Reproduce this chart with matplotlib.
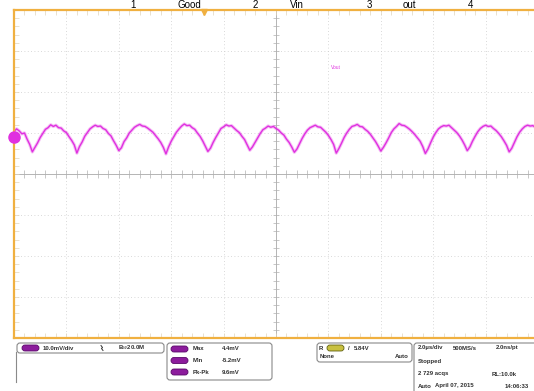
import matplotlib
matplotlib.use("Agg")
import matplotlib.pyplot as plt
from matplotlib.patches import FancyBboxPatch
import numpy as np

# ---- data ----
# Ch1 trace, mV relative to the channel marker, one sample every 0.1 us from -10 us
vout_mv = [
    1.4, 2.0, 1.5, 0.8, 1.0, -0.5, -1.8,
    -3.6, -2.5, -1.4, -0.1, 0.9, 1.9, 2.3, 3.0, 2.6, 2.9, 2.3, 2.2, 1.5, 1.1, 0.1, -0.8, -1.9,
    -3.9, -2.3, -1.2, 0.2, 1.1, 2.0, 2.5, 2.9, 2.6, 2.7, 2.1, 1.8, 0.9, 0.3, -0.9, -2.0,
    -3.3, -2.6, -1.1, -0.2, 1.0, 1.7, 2.4, 2.8, 3.1, 2.7, 2.6, 2.2, 1.7, 1.2, 0.4, -0.4, -1.3, -2.5,
    -4.1, -2.4, -1.0, 0.1, 1.2, 2.0, 2.7, 3.2, 2.8, 2.9, 2.3, 1.9, 1.0, 0.2, -0.9, -2.2,
    -3.5, -2.7, -1.3, -0.1, 1.0, 2.1, 2.5, 3.0, 2.7, 2.8, 2.2, 1.6, 1.1, 0.2, -0.6, -1.9,
    -3.2, -2.4, -1.3, -0.2, 0.9, 1.8, 2.2, 2.7, 2.4, 2.6, 2.1, 1.7, 1.0, 0.5, -0.5, -1.3, -2.4,
    -3.7, -2.9, -1.6, -0.3, 0.8, 1.7, 2.3, 2.6, 2.9, 2.5, 2.4, 1.8, 1.2, 0.4, -0.6, -1.8,
    -3.9, -2.8, -1.5, -0.1, 1.0, 1.9, 2.6, 2.8, 3.1, 2.6, 2.5, 1.9, 1.4, 0.7, -0.2, -1.1, -2.2,
    -3.4, -2.5, -1.4, -0.2, 1.1, 2.0, 2.6, 3.3, 2.9, 2.8, 2.4, 1.9, 1.3, 0.6, -0.2, -1.0, -2.3,
    -4.0, -2.9, -1.4, 0.0, 1.1, 2.0, 2.5, 2.8, 2.7, 2.9, 2.3, 1.7, 1.1, 0.3, -0.7, -1.9,
    -3.3, -2.4, -1.0, 0.2, 1.3, 2.1, 2.6, 2.9, 2.6, 2.7, 2.1, 1.6, 0.9, 0.1, -0.9, -2.0,
    -3.6, -2.7, -1.3, 0.1, 1.2, 2.0, 2.6, 2.9, 2.7, 2.8, 2.4, 2.1,
]
sample_us = 0.1
t_start_us = -10.0
ch1_offset_mv = 9.0          # channel marker position on screen (mV)

top_labels = ["1", "Good", "2", "Vin", "3", "out", "4"]
meas_names = ["Max", "Min", "Pk-Pk"]
meas_values = ["4.4mV", "-5.2mV", "9.6mV"]

ORANGE = '#f0b040'
TRACE = '#e030e0'
PURPLE = '#8c1c9c'
GRIDC = '#cccccc'
FONT = 'Liberation Sans'

W, H = 534, 391
fig = plt.figure(figsize=(W / 100, H / 100), dpi=100)
fig.patch.set_facecolor('white')

def fx(x):
    return x / W

def fy(y):
    return 1 - y / H

# ---- graticule ----
ax = fig.add_axes([fx(14), fy(338), 524 / W, 328 / H])
ax.set_xlim(-10, 10)
ax.set_ylim(-40, 40)
ax.set_xticks([])
ax.set_yticks([])
for s in ['left', 'top', 'bottom']:
    ax.spines[s].set_color(ORANGE)
    ax.spines[s].set_linewidth(1.6)
ax.spines['right'].set_visible(False)

for x in range(-8, 9, 2):
    if x != 0:
        ax.axvline(x, color=GRIDC, lw=0.6, ls=(0, (1, 3)))
for y in range(-30, 31, 10):
    if y != 0:
        ax.axhline(y, color=GRIDC, lw=0.6, ls=(0, (1, 3)))
ax.axvline(0, color='#b4b4b4', lw=0.7)
ax.axhline(0, color='#b4b4b4', lw=0.7)

# minor tick marks (5 per division)
xt = np.arange(-10, 10.01, 0.4)
yt = np.arange(-40, 40.01, 2)
ax.vlines(xt, -0.9, 0.9, color='#b0b0b0', lw=0.5)
ax.hlines(yt, -0.12, 0.12, color='#b0b0b0', lw=0.5)
ax.vlines(xt, 38.8, 40, color='#e0d4bc', lw=0.5)
ax.vlines(xt, -40, -38.8, color='#e0d4bc', lw=0.5)
ax.hlines(yt, -10, -9.8, color='#e0d4bc', lw=0.5)

# ---- trace ----
t = t_start_us + sample_us * np.arange(len(vout_mv))
v = np.array(vout_mv) + ch1_offset_mv
ax.plot(t, v, color=TRACE, lw=2.4, alpha=0.3, solid_joinstyle='round')
ax.plot(t, v, color=TRACE, lw=1.0)

ax.plot([-10], [ch1_offset_mv], 'o', color=TRACE, ms=8, clip_on=False, zorder=5)
ax.plot([-2.75], [39.5], 'v', color=ORANGE, ms=4, clip_on=False, zorder=5)
ax.text(2.3, 25.9, 'Vout', color=TRACE, fontsize=3.5, family=FONT,
        ha='center', va='center')

# ---- channel labels along the top edge ----
label_x = [130, 177, 253, 290, 367, 403, 468]
for lx, lab in zip(label_x, top_labels):
    fig.text(fx(lx), fy(8.5), lab, fontsize=7, family=FONT, ha='left', va='baseline')

# ---- bottom readout panel ----
pan = fig.add_axes([0, 0, 1, 1], zorder=-1)
pan.set_xlim(0, W)
pan.set_ylim(H, 0)
pan.axis('off')

def box(x0, y0, x1, y1):
    pan.add_patch(FancyBboxPatch((x0, y0), x1 - x0, y1 - y0,
                                 boxstyle='round,pad=0,rounding_size=3',
                                 fc='white', ec='#8a8a8a', lw=0.8))

def pill(x, y, color, ec):
    pan.add_patch(FancyBboxPatch((x, y - 3), 17, 6,
                                 boxstyle='round,pad=0,rounding_size=3',
                                 fc=color, ec=ec, lw=0.6))

def txt(x, y, s, ha='left'):
    pan.text(x, y, s, fontsize=4.3, family=[FONT, 'DejaVu Sans'], fontweight='bold',
             ha=ha, va='center', color='#303030')

pan.plot([16, 16], [352, 382], color='#8a8a8a', lw=0.8)
box(17, 343, 164, 353)
pill(22, 348, PURPLE, '#5a0a6a')
txt(43, 348, '10.0mV/div')
# coupling symbol
pan.plot([101, 102.5, 101.5, 103], [345.5, 347.5, 348.5, 350.5], color='#303030', lw=0.7)
txt(118, 348, 'B$_W$20.0M')

box(167, 343, 272, 380)
for k, (nm, val) in enumerate(zip(meas_names, meas_values)):
    yy = 349 + 11.5 * k
    pill(171, yy, PURPLE, '#5a0a6a')
    txt(193, yy, nm)
    txt(222, yy, val)

box(317, 343, 412, 362)
txt(319, 348, 'R')
pill(327, 348, '#c8c040', '#606010')
txt(348, 348, '/')
txt(354, 348, '5.84V')
txt(320, 357, 'None')
txt(395, 357, 'Auto')

box(414, 343, 545, 395)
txt(418, 348, '2.0\u00b5s/div')
txt(453, 348, '500MS/s')
txt(496, 348, '2.0ns/pt')
txt(418, 362, 'Stopped')
txt(418, 374, '2 729 acqs')
txt(492, 374, 'RL:10.0k')
txt(418, 386, 'Auto')
txt(435, 386, 'April 07, 2015')
txt(505, 386, '14:06:33')

fig.savefig('out.png', dpi=100, facecolor='white')
